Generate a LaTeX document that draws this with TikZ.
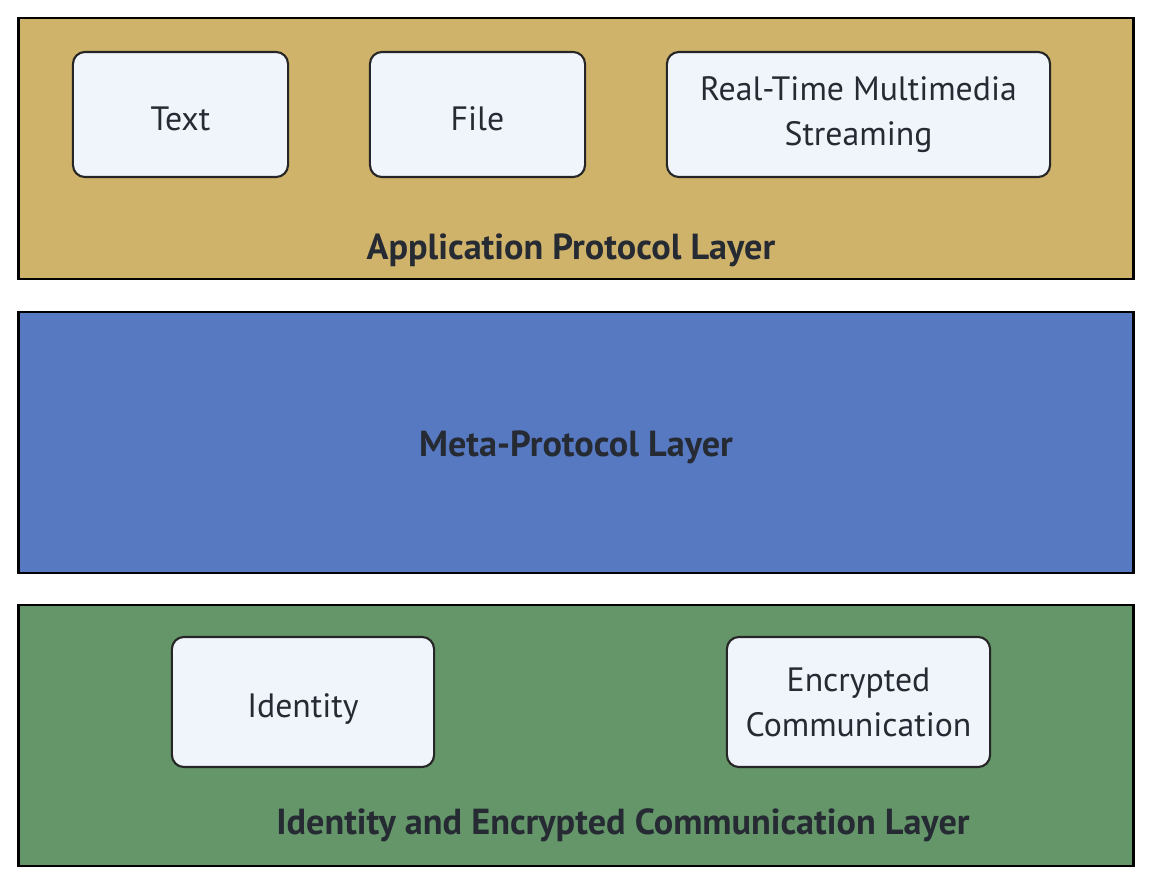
\documentclass[tikz,border=0pt]{standalone}
\usepackage{fontspec}
\setmainfont{PT Sans}
\definecolor{applayer}{RGB}{207,179,106}
\definecolor{metalayer}{RGB}{87,121,193}
\definecolor{idlayer}{RGB}{100,150,106}
\definecolor{boxfill}{RGB}{240,244,251}
\definecolor{inktext}{RGB}{38,42,51}
\tikzset{
  layer/.style={draw=black, line width=0.7pt, minimum width=11.14cm, minimum height=2.61cm, inner sep=0pt},
  modbox/.style={draw=black!85, line width=0.6pt, fill=boxfill, rounded corners=0.12cm,
    text=inktext, align=center, inner sep=0pt, font=\fontsize{9.6}{12.8}\selectfont},
  oneline/.style={text height=9pt, text depth=0pt},
  layername/.style={text=inktext, anchor=base, font=\fontsize{10.3}{12}\selectfont\bfseries}
}
\begin{document}
\begin{tikzpicture}[x=0.01cm, y=-0.01cm]
  \useasboundingbox (0,0) rectangle (1156,884);
  % layers
  \node[layer, fill=applayer] (app) at (576,148.5) {};
  \node[layer, fill=metalayer] (meta) at (576,442.5) {};
  \node[layer, fill=idlayer] (ident) at (576,735.5) {};
  \node[layername] (applabel) at (571,259) {Application Protocol Layer};
  \node[layername] (metalabel) at (576,456) {Meta-Protocol Layer};
  \node[layername] (identlabel) at (623,834) {Identity and Encrypted Communication Layer};
  % application modules
  \node[modbox, oneline, minimum width=2.15cm, minimum height=1.25cm] (text) at (180.5,114.5) {Text};
  \node[modbox, oneline, minimum width=2.15cm, minimum height=1.25cm] (file) at (477.5,114.5) {File};
  \node[modbox, minimum width=3.83cm, minimum height=1.25cm] (stream) at (858.5,114.5) {Real-Time Multimedia\\Streaming};
  % identity modules
  \node[modbox, oneline, minimum width=2.62cm, minimum height=1.30cm] (identity) at (303,702) {Identity};
  \node[modbox, minimum width=2.63cm, minimum height=1.30cm] (crypt) at (858.5,702) {Encrypted\\Communication};
\end{tikzpicture}
\end{document}
